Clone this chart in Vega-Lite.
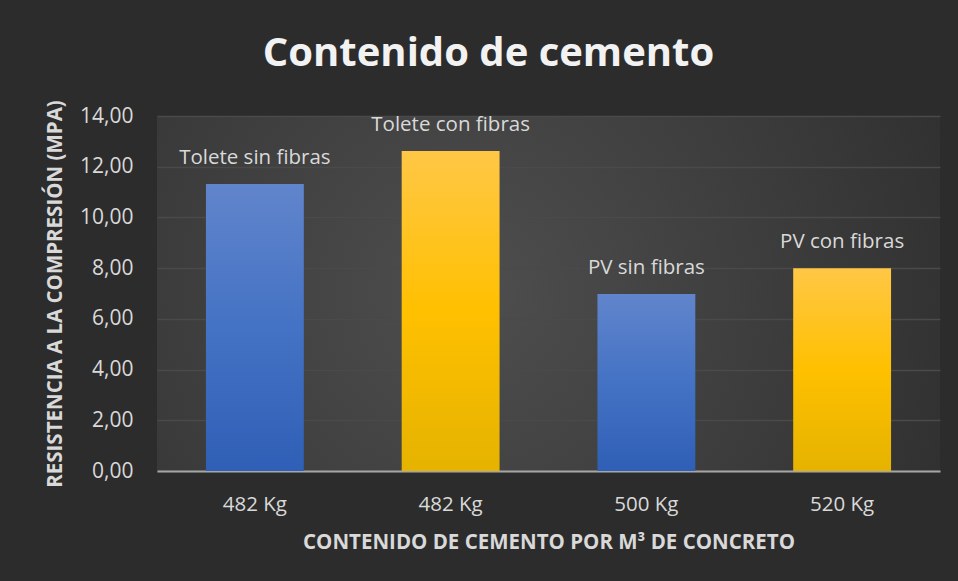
{
  "$schema": "https://vega.github.io/schema/vega-lite/v6.json",
  "width": 783,
  "height": 355,
  "autosize": {"type": "none"},
  "padding": {"left": 157, "top": 116, "right": 18, "bottom": 110},
  "background": "#2c2c2c",
  "title": {
    "text": "Contenido de cemento",
    "font": "Open Sans",
    "fontSize": 40,
    "fontWeight": "bold",
    "color": "#f2f2f2",
    "anchor": "middle",
    "dx": -60,
    "baseline": "alphabetic",
    "offset": -6
  },
  "data": {
    "values": [
      {"cemento": "482 Kg", "serie": "Tolete sin fibras", "fibras": "sin", "resistencia": 11.32},
      {"cemento": "482 Kg ", "serie": "Tolete con fibras", "fibras": "con", "resistencia": 12.62},
      {"cemento": "500 Kg", "serie": "PV sin fibras", "fibras": "sin", "resistencia": 6.98},
      {"cemento": "520 Kg", "serie": "PV con fibras", "fibras": "con", "resistencia": 8.0}
    ]
  },
  "encoding": {
    "x": {
      "field": "cemento",
      "type": "nominal",
      "sort": null,
      "scale": {"paddingInner": 0.5, "paddingOuter": 0.25},
      "axis": {
        "title": "CONTENIDO DE CEMENTO POR M³ DE CONCRETO",
        "labelExpr": "trim(datum.label)",
        "labelAngle": 0,
        "labelFont": "Open Sans",
        "labelFontSize": 20.5,
        "labelColor": "#d9d9d9",
        "labelPadding": 23,
        "ticks": false,
        "domainColor": "#a6a6a6",
        "domainWidth": 2,
        "titleFont": "Open Sans",
        "titleFontSize": 20.5,
        "titleFontWeight": "bold",
        "titleColor": "#d9d9d9",
        "titlePadding": 18
      }
    },
    "y": {
      "field": "resistencia",
      "type": "quantitative",
      "scale": {"domain": [0, 14]},
      "axis": {
        "title": "RESISTENCIA A LA COMPRESIÓN (MPA)",
        "values": [0, 2, 4, 6, 8, 10, 12, 14],
        "labelExpr": "replace(format(datum.value, '.2f'), '.', ',')",
        "labelFont": "Open Sans",
        "labelFontSize": 21,
        "labelColor": "#d9d9d9",
        "labelPadding": 24,
        "ticks": false,
        "domain": false,
        "grid": true,
        "gridColor": "#4a4a4a",
        "gridWidth": 1.5,
        "titleFont": "Open Sans",
        "titleFontSize": 20.5,
        "titleFontWeight": "bold",
        "titleColor": "#d9d9d9",
        "titlePadding": 14
      }
    }
  },
  "layer": [
    {
      "mark": {"type": "bar"},
      "encoding": {
        "color": {
          "condition": {
            "test": "datum.fibras === 'sin'",
            "value": {
              "gradient": "linear", "x1": 0, "y1": 0, "x2": 0, "y2": 1,
              "stops": [{"offset": 0, "color": "#6185cc"}, {"offset": 0.5, "color": "#4472c4"}, {"offset": 1, "color": "#2f5fb6"}]
            }
          },
          "value": {
            "gradient": "linear", "x1": 0, "y1": 0, "x2": 0, "y2": 1,
            "stops": [{"offset": 0, "color": "#ffc746"}, {"offset": 0.5, "color": "#ffc000"}, {"offset": 1, "color": "#e5b300"}]
          }
        }
      }
    },
    {
      "mark": {"type": "text", "baseline": "middle", "dy": -26, "font": "Open Sans", "fontSize": 20.5, "color": "#d9d9d9"},
      "encoding": {"text": {"field": "serie"}}
    }
  ],
  "config": {
    "view": {
      "stroke": null,
      "fill": {
        "gradient": "radial", "x1": 0.4, "y1": 0.5, "x2": 0.4, "y2": 0.5, "r1": 0, "r2": 0.75,
        "stops": [{"offset": 0, "color": "#4e4e4e"}, {"offset": 1, "color": "#2c2c2c"}]
      }
    }
  }
}
